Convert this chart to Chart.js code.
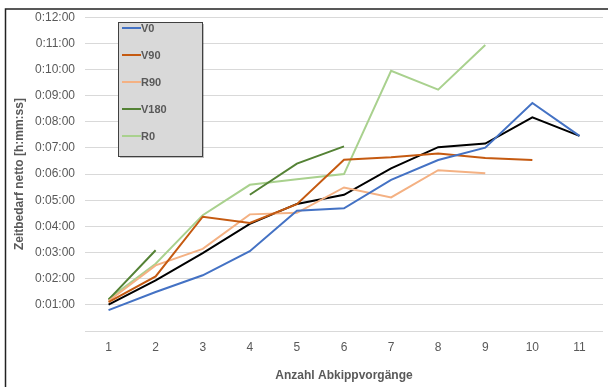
<!DOCTYPE html>
<html>
<head>
<meta charset="utf-8">
<script src="https://cdn.jsdelivr.net/npm/chart.js@4"></script>
<style>
  html, body { margin: 0; padding: 0; background: #fff; }
  #wrap { position: relative; width: 608px; height: 387px; }
</style>
</head>
<body>
<div id="wrap"><canvas id="chart" width="608" height="387"></canvas></div>
<script>
// Werte in Minuten (Zeitbedarf netto)
const categories = ['1', '2', '3', '4', '5', '6', '7', '8', '9', '10', '11'];
const v0   = [0.80, 1.49, 2.13, 3.05, 4.60, 4.69, 5.78, 6.54, 7.01, 8.72, 7.46];
const v90  = [1.10, 2.09, 4.37, 4.13, 4.85, 6.55, 6.64, 6.79, 6.62, 6.54, null];
const r90  = [1.15, 2.51, 3.14, 4.46, 4.52, 5.49, 5.11, 6.15, 6.03, null, null];
const v180 = [1.20, 3.09, null, 5.21, 6.40, 7.06, null, null, null, null, null];
const r0   = [1.22, 2.57, 4.43, 5.59, 5.80, 6.00, 9.95, 9.23, 10.94, null, null];
const mean = [1.01, 1.94, 2.98, 4.10, 4.86, 5.21, 6.22, 7.03, 7.17, 8.17, 7.46];
const yTicks = [0, 1, 2, 3, 4, 5, 6, 7, 8, 9, 10, 11, 12];

const grey = '#595959';
const font = "'Liberation Sans', Arial, sans-serif";

function fmt(min) {
  const mm = String(Math.floor(min)).padStart(2, '0');
  return '0:' + mm + ':00';
}

function line(label, data, color, inLegend) {
  return {
    label: label, data: data, borderColor: color, backgroundColor: color,
    borderWidth: 2, pointRadius: 0, tension: 0, spanGaps: false, inLegend: inLegend
  };
}

// Rahmen links/oben wie im Original
const frame = {
  id: 'frame',
  beforeDraw(chart) {
    const ctx = chart.ctx;
    ctx.save();
    ctx.strokeStyle = '#222';
    ctx.lineWidth = 1.5;
    ctx.beginPath();
    ctx.moveTo(5.5, 387);
    ctx.lineTo(5.5, 9);
    ctx.lineTo(608, 9);
    ctx.stroke();
    ctx.restore();
  }
};

// Legende als graue Box im Diagramm
const boxLegend = {
  id: 'boxLegend',
  afterDraw(chart) {
    const ctx = chart.ctx;
    const x = 118, y = 22, w = 84, h = 134;
    ctx.save();
    ctx.fillStyle = 'rgba(0,0,0,0.25)';
    ctx.fillRect(x + 2, y + 2, w, h);
    ctx.fillStyle = '#d9d9d9';
    ctx.fillRect(x, y, w, h);
    ctx.strokeStyle = '#404040';
    ctx.lineWidth = 1;
    ctx.strokeRect(x + 0.5, y + 0.5, w, h);
    ctx.font = 'bold 11px ' + font;
    ctx.textBaseline = 'middle';
    let row = 0;
    chart.data.datasets.forEach(ds => {
      if (!ds.inLegend) return;
      const cy = 28 + row * 27;
      ctx.strokeStyle = ds.borderColor;
      ctx.lineWidth = 2;
      ctx.beginPath();
      ctx.moveTo(122, cy);
      ctx.lineTo(141, cy);
      ctx.stroke();
      ctx.fillStyle = grey;
      ctx.fillText(ds.label, 141, cy + 0.5);
      row++;
    });
    ctx.restore();
  }
};

new Chart(document.getElementById('chart'), {
  type: 'line',
  data: {
    labels: categories,
    datasets: [
      line('V0', v0, '#4472C4', true),
      line('V90', v90, '#C55A11', true),
      line('R90', r90, '#F4B183', true),
      line('V180', v180, '#548235', true),
      line('R0', r0, '#A9D18E', true),
      line('Mittelwert', mean, '#000000', false)
    ]
  },
  options: {
    responsive: false,
    animation: false,
    layout: { padding: { top: 10, right: 5, left: 8, bottom: 0 } },
    plugins: { legend: { display: false }, tooltip: { enabled: false } },
    scales: {
      x: {
        offset: true,
        grid: { display: false },
        border: { display: false },
        ticks: { color: grey, font: { family: font, size: 12 }, padding: 1 },
        title: { display: true, text: 'Anzahl Abkippvorgänge', color: grey,
                 font: { family: font, size: 12, weight: 'bold' }, padding: { top: 12 } },
        afterFit(s) { s.height = 56; }
      },
      y: {
        min: 0, max: 12,
        afterBuildTicks(s) { s.ticks = yTicks.map(v => ({ value: v })); },
        grid: { color: '#d9d9d9', lineWidth: 1, drawTicks: false },
        border: { display: false },
        ticks: {
          color: grey, font: { family: font, size: 12 }, padding: 10,
          callback: v => v === 0 ? '' : fmt(v)
        },
        title: { display: true, text: 'Zeitbedarf netto [h:mm:ss]', color: grey,
                 font: { family: font, size: 12, weight: 'bold' } },
        afterFit(s) { s.width = 77; }
      }
    }
  },
  plugins: [frame, boxLegend]
});
</script>
</body>
</html>
